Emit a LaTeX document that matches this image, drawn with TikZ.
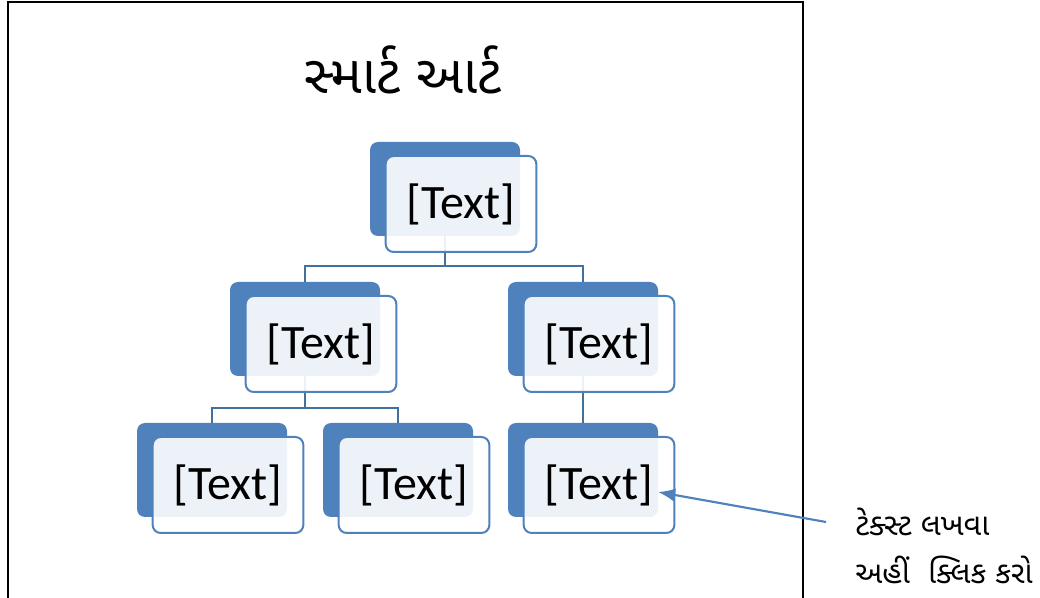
\documentclass[tikz,border=0pt]{standalone}
\usepackage{fontspec}
\usepackage{tikz}
\usetikzlibrary{arrows.meta}
\newfontfamily\boxfont{Carlito}
\newfontfamily\gujfont[Script=Gujarati]{Noto Sans Gujarati UI}
\definecolor{accent}{HTML}{4F81BD}
\definecolor{linkblue}{HTML}{41719C}
\tikzstyle{backbox}=[rectangle, rounded corners=6pt, fill=accent, minimum width=112.5pt, minimum height=70.5pt, inner sep=0pt]
\tikzstyle{frontbox}=[rectangle, rounded corners=6pt, draw=accent, line width=1.5pt, fill=white, fill opacity=0.9, text opacity=1, minimum width=113pt, minimum height=72pt, inner sep=0pt, font=\boxfont\fontsize{36}{40}\selectfont]
\tikzstyle{link}=[draw=linkblue, line width=1.6pt]
\tikzstyle{arrow}=[draw=accent, line width=1.6pt, -{Latex[length=4.5mm, width=3.5mm]}]

\begin{document}
\begin{tikzpicture}[x=0.75pt, y=-0.75pt]
		   \useasboundingbox (0, 0) rectangle (1040, 598);
		   \begin{scope}
			   % slide frame and title
			   \draw [line width=1.5pt] (8, 610) -- (8, 2) -- (803, 2) -- (803, 610);
			   \node (title) at (403, 70) {\gujfont\fontsize{40}{44}\selectfont સ્માર્ટ આર્ટ};
		   \end{scope}
		   \begin{scope}
			   \node (b0) at (445, 189)[backbox] {};
			   \node (b1) at (305, 329)[backbox] {};
			   \node (b2) at (583, 329)[backbox] {};
			   \node (b3) at (212, 470)[backbox] {};
			   \node (b4) at (398, 470)[backbox] {};
			   \node (b5) at (583, 470)[backbox] {};
		   \end{scope}
		   \begin{scope}
			   \path [link] (b0.south) -- ++(0, 30) -| (b1.north);
			   \path [link] (b0.south) -- ++(0, 30) -| (b2.north);
			   \path [link] (b1.south) -- ++(0, 32) -| (b3.north);
			   \path [link] (b1.south) -- ++(0, 32) -| (b4.north);
			   \path [link] (b2.south) -- (b5.north);
		   \end{scope}
		   \begin{scope}
			   \node (f0) at (461, 204)[frontbox] {[Text]};
			   \node (f1) at (321, 344)[frontbox] {[Text]};
			   \node (f2) at (599, 344)[frontbox] {[Text]};
			   \node (f3) at (228, 485)[frontbox] {[Text]};
			   \node (f4) at (414, 485)[frontbox] {[Text]};
			   \node (f5) at (599, 485)[frontbox] {[Text]};
		   \end{scope}
		   \begin{scope}
			   \coordinate (tip) at (658, 492);
			   \node (hint1) at (826, 522)[anchor=west, inner xsep=21.75pt, inner ysep=0pt] {\gujfont\fontsize{23}{26}\selectfont ટેક્સ્ટ લખવા};
			   \node (hint2) at (826, 570)[anchor=west, inner xsep=21.75pt, inner ysep=0pt] {\gujfont\fontsize{23}{26}\selectfont અહીં\ \ ક્લિક કરો};
			   \path [arrow] (hint1.west) -- (tip);
		   \end{scope}
	   \end{tikzpicture}
\end{document}
